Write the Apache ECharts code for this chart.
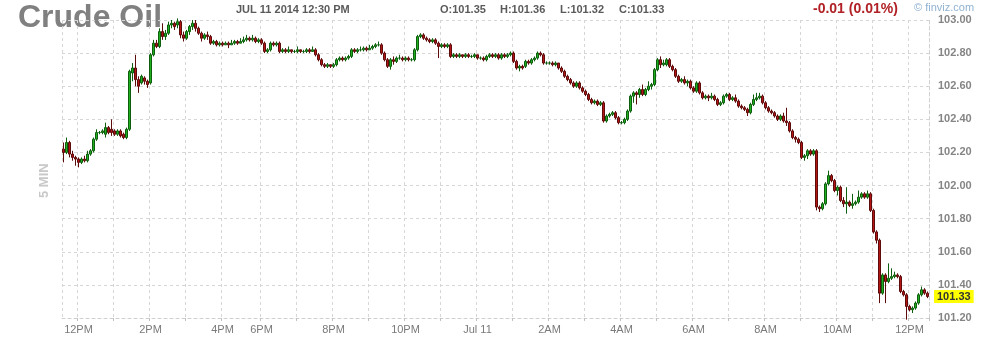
<!DOCTYPE html>
<html><head><meta charset="utf-8">
<script src="https://cdn.jsdelivr.net/npm/echarts/dist/echarts.min.js"></script>
<style>html,body{margin:0;padding:0;background:#fff}#c{width:982px;height:343px}</style>
</head><body><div id="c"></div>
<script>
const chartTitle = 'Crude Oil';
const stamp = 'JUL 11 2014 12:30 PM';
const quoteLabels = ['O:101.35', 'H:101.36', 'L:101.32', 'C:101.33'];
const changeText = '-0.01 (0.01%)';
const sideText = '5 MIN';
const lastPrice = 101.33;
const yMin = 101.2, yMax = 103.0, yStep = 0.2;
// trading sessions of 5-minute bars (category labels)
const sessions = [['Jul 10', '11:35', '17:00'], ['Jul 10', '18:00', '23:55'], ['Jul 11', '00:00', '12:30']];
// candles: [open, close, low, high]
const candles = [
[102.22,102.20,102.14,102.26],[102.20,102.26,102.19,102.29],[102.26,102.19,102.17,102.27],[102.19,102.17,102.15,102.21],[102.17,102.16,102.12,102.18],[102.16,102.14,102.11,102.17],[102.14,102.16,102.13,102.17],[102.16,102.15,102.14,102.18],[102.15,102.19,102.14,102.21],[102.19,102.21,102.18,102.22],
[102.21,102.28,102.20,102.29],[102.28,102.32,102.27,102.34],[102.32,102.32,102.31,102.33],[102.32,102.33,102.31,102.34],[102.31,102.35,102.29,102.38],[102.35,102.32,102.31,102.36],[102.34,102.32,102.30,102.40],[102.33,102.31,102.30,102.34],[102.31,102.33,102.30,102.34],[102.33,102.30,102.29,102.34],
[102.31,102.29,102.28,102.32],[102.29,102.34,102.28,102.35],[102.34,102.69,102.33,102.70],[102.68,102.71,102.63,102.74],[102.71,102.64,102.60,102.79],[102.64,102.60,102.56,102.66],[102.62,102.66,102.61,102.67],[102.65,102.63,102.61,102.66],[102.63,102.61,102.59,102.64],[102.62,102.79,102.61,102.80],
[102.79,102.86,102.78,102.88],[102.86,102.84,102.83,102.88],[102.84,102.93,102.83,102.95],[102.93,102.90,102.88,102.98],[102.90,102.92,102.88,102.94],[102.92,102.97,102.91,102.99],[102.97,102.98,102.95,103.00],[102.98,102.96,102.94,102.99],[102.97,102.99,102.95,103.01],[102.99,102.91,102.89,103.00],
[102.91,102.89,102.87,102.93],[102.89,102.93,102.88,102.94],[102.93,102.96,102.91,102.97],[102.96,102.98,102.94,103.00],[102.98,102.95,102.93,103.00],[102.95,102.92,102.91,102.96],[102.92,102.89,102.87,102.93],[102.89,102.91,102.88,102.92],[102.91,102.90,102.88,102.93],[102.90,102.86,102.85,102.91],
[102.86,102.87,102.85,102.88],[102.87,102.85,102.84,102.88],[102.85,102.86,102.84,102.87],[102.86,102.85,102.84,102.87],[102.85,102.86,102.85,102.87],[102.86,102.85,102.83,102.87],[102.85,102.86,102.85,102.88],[102.86,102.87,102.85,102.88],[102.87,102.86,102.85,102.88],[102.86,102.87,102.86,102.89],
[102.87,102.88,102.86,102.90],[102.88,102.89,102.87,102.91],[102.89,102.88,102.87,102.90],[102.88,102.89,102.87,102.91],[102.89,102.87,102.86,102.90],[102.87,102.88,102.86,102.89],[102.88,102.86,102.85,102.89],[102.86,102.81,102.80,102.87],[102.81,102.82,102.80,102.83],[102.82,102.86,102.81,102.87],
[102.86,102.85,102.84,102.87],[102.85,102.86,102.84,102.87],[102.86,102.81,102.80,102.87],[102.81,102.82,102.80,102.83],[102.82,102.81,102.80,102.83],[102.81,102.82,102.80,102.84],[102.82,102.81,102.80,102.82],[102.81,102.81,102.80,102.82],[102.81,102.82,102.80,102.84],[102.82,102.81,102.80,102.82],
[102.81,102.81,102.80,102.82],[102.81,102.82,102.80,102.83],[102.82,102.81,102.80,102.83],[102.81,102.82,102.81,102.84],[102.82,102.79,102.78,102.83],[102.79,102.76,102.75,102.80],[102.76,102.73,102.72,102.77],[102.73,102.72,102.71,102.74],[102.72,102.73,102.71,102.74],[102.73,102.72,102.71,102.73],
[102.72,102.73,102.71,102.74],[102.73,102.76,102.72,102.77],[102.76,102.77,102.75,102.78],[102.77,102.76,102.75,102.78],[102.76,102.77,102.75,102.78],[102.77,102.78,102.76,102.79],[102.78,102.82,102.77,102.83],[102.82,102.81,102.80,102.83],[102.81,102.82,102.80,102.83],[102.82,102.82,102.81,102.84],
[102.82,102.83,102.81,102.84],[102.83,102.82,102.81,102.84],[102.82,102.83,102.82,102.85],[102.83,102.84,102.82,102.85],[102.84,102.85,102.83,102.86],[102.85,102.85,102.84,102.87],[102.85,102.80,102.79,102.86],[102.80,102.76,102.75,102.81],[102.76,102.72,102.71,102.77],[102.72,102.76,102.70,102.77],
[102.76,102.75,102.73,102.78],[102.75,102.77,102.74,102.78],[102.77,102.77,102.76,102.79],[102.77,102.76,102.75,102.78],[102.76,102.77,102.75,102.78],[102.77,102.76,102.75,102.78],[102.76,102.76,102.75,102.77],[102.76,102.82,102.75,102.83],[102.82,102.90,102.81,102.91],[102.90,102.91,102.89,102.92],
[102.91,102.89,102.88,102.92],[102.89,102.88,102.87,102.90],[102.88,102.87,102.86,102.89],[102.87,102.88,102.86,102.89],[102.88,102.86,102.85,102.89],[102.86,102.84,102.77,102.87],[102.84,102.85,102.83,102.86],[102.85,102.84,102.83,102.86],[102.84,102.85,102.83,102.86],[102.85,102.78,102.77,102.86],
[102.78,102.79,102.77,102.80],[102.79,102.78,102.77,102.80],[102.78,102.79,102.77,102.80],[102.79,102.78,102.77,102.79],[102.78,102.79,102.77,102.80],[102.79,102.78,102.77,102.80],[102.78,102.78,102.77,102.79],[102.78,102.79,102.77,102.80],[102.79,102.77,102.76,102.79],[102.77,102.77,102.76,102.78],
[102.77,102.76,102.75,102.78],[102.76,102.78,102.75,102.79],[102.78,102.79,102.77,102.80],[102.79,102.78,102.77,102.80],[102.78,102.79,102.77,102.80],[102.79,102.77,102.76,102.80],[102.77,102.79,102.76,102.80],[102.79,102.78,102.77,102.80],[102.78,102.79,102.77,102.80],[102.79,102.80,102.78,102.81],
[102.80,102.75,102.74,102.81],[102.75,102.71,102.70,102.76],[102.71,102.72,102.69,102.73],[102.72,102.71,102.70,102.73],[102.72,102.75,102.71,102.76],[102.75,102.74,102.73,102.76],[102.74,102.76,102.73,102.77],[102.76,102.77,102.75,102.78],[102.77,102.80,102.76,102.81],[102.80,102.79,102.78,102.81],
[102.79,102.74,102.73,102.80],[102.74,102.74,102.73,102.75],[102.74,102.74,102.73,102.75],[102.74,102.73,102.72,102.75],[102.73,102.74,102.72,102.75],[102.74,102.71,102.70,102.74],[102.71,102.69,102.68,102.72],[102.69,102.66,102.65,102.70],[102.66,102.64,102.63,102.67],[102.64,102.62,102.61,102.65],
[102.62,102.60,102.59,102.63],[102.60,102.62,102.59,102.63],[102.62,102.59,102.58,102.63],[102.59,102.57,102.56,102.60],[102.57,102.55,102.54,102.58],[102.55,102.52,102.51,102.56],[102.52,102.50,102.49,102.53],[102.50,102.51,102.49,102.52],[102.51,102.49,102.48,102.52],[102.49,102.50,102.48,102.51],
[102.50,102.39,102.38,102.51],[102.39,102.42,102.38,102.43],[102.42,102.43,102.41,102.44],[102.43,102.44,102.42,102.45],[102.44,102.41,102.40,102.45],[102.41,102.38,102.37,102.42],[102.38,102.38,102.37,102.39],[102.38,102.40,102.37,102.41],[102.40,102.45,102.39,102.46],[102.45,102.54,102.44,102.55],
[102.54,102.56,102.50,102.57],[102.56,102.55,102.49,102.57],[102.55,102.58,102.53,102.59],[102.58,102.55,102.54,102.61],[102.55,102.58,102.54,102.59],[102.58,102.60,102.57,102.63],[102.60,102.61,102.58,102.62],[102.61,102.70,102.60,102.71],[102.70,102.76,102.69,102.77],[102.76,102.73,102.71,102.78],
[102.73,102.74,102.72,102.76],[102.73,102.76,102.72,102.77],[102.76,102.72,102.71,102.77],[102.72,102.70,102.69,102.73],[102.70,102.66,102.65,102.71],[102.66,102.63,102.62,102.67],[102.63,102.64,102.62,102.65],[102.64,102.62,102.61,102.66],[102.62,102.63,102.60,102.64],[102.63,102.59,102.58,102.64],
[102.59,102.57,102.56,102.60],[102.57,102.62,102.56,102.63],[102.62,102.56,102.55,102.63],[102.56,102.53,102.52,102.57],[102.53,102.54,102.52,102.55],[102.54,102.53,102.51,102.55],[102.53,102.54,102.52,102.56],[102.54,102.52,102.51,102.55],[102.52,102.49,102.48,102.53],[102.49,102.50,102.48,102.51],
[102.50,102.54,102.49,102.55],[102.54,102.55,102.53,102.56],[102.55,102.52,102.51,102.56],[102.52,102.53,102.51,102.54],[102.53,102.51,102.50,102.55],[102.51,102.48,102.47,102.52],[102.48,102.47,102.46,102.49],[102.47,102.46,102.45,102.48],[102.46,102.44,102.42,102.47],[102.44,102.49,102.43,102.50],
[102.49,102.52,102.48,102.55],[102.52,102.53,102.51,102.56],[102.53,102.54,102.52,102.56],[102.54,102.50,102.49,102.55],[102.50,102.47,102.46,102.51],[102.47,102.45,102.44,102.48],[102.45,102.44,102.43,102.46],[102.44,102.42,102.41,102.45],[102.42,102.40,102.39,102.43],[102.40,102.42,102.39,102.43],
[102.42,102.39,102.38,102.44],[102.39,102.38,102.36,102.47],[102.38,102.33,102.32,102.39],[102.33,102.29,102.28,102.34],[102.29,102.28,102.26,102.30],[102.28,102.26,102.25,102.29],[102.26,102.17,102.16,102.27],[102.17,102.18,102.15,102.19],[102.18,102.21,102.16,102.22],[102.21,102.19,102.18,102.22],
[102.19,102.21,102.18,102.22],[102.21,101.87,101.85,102.22],[101.87,101.86,101.84,101.88],[101.86,101.89,101.85,101.90],[101.89,102.01,101.88,102.02],[102.01,102.06,102.00,102.09],[102.06,102.03,102.02,102.07],[102.03,101.97,101.96,102.04],[101.97,101.99,101.94,102.00],[101.99,101.91,101.90,102.00],
[101.91,101.89,101.87,101.93],[101.89,101.90,101.83,101.99],[101.90,101.88,101.87,101.91],[101.88,101.89,101.86,101.95],[101.89,101.90,101.88,101.91],[101.90,101.93,101.89,101.97],[101.93,101.95,101.92,101.96],[101.95,101.93,101.92,101.96],[101.93,101.95,101.92,101.97],[101.95,101.85,101.84,101.96],
[101.85,101.72,101.71,101.86],[101.72,101.67,101.65,101.73],[101.67,101.35,101.29,101.68],[101.35,101.46,101.34,101.47],[101.46,101.42,101.29,101.47],[101.42,101.44,101.41,101.53],[101.44,101.45,101.43,101.50],[101.45,101.46,101.44,101.48],[101.46,101.45,101.44,101.47],[101.45,101.36,101.35,101.46],
[101.36,101.34,101.33,101.37],[101.34,101.27,101.19,101.35],[101.27,101.25,101.24,101.28],[101.25,101.26,101.23,101.27],[101.26,101.29,101.25,101.30],[101.29,101.34,101.28,101.35],[101.34,101.37,101.33,101.39],[101.37,101.35,101.34,101.38],[101.35,101.33,101.32,101.36]
];

const times = [];
sessions.forEach(([d, a, b]) => {
  const toM = s => (+s.slice(0, 2)) * 60 + (+s.slice(3));
  for (let m = toM(a); m <= toM(b); m += 5) {
    times.push(d + ' ' + String(Math.floor(m / 60)).padStart(2, '0') + ':' + String(m % 60).padStart(2, '0'));
  }
});
const hm = v => { const t = v.split(' ')[2].split(':'); return [+t[0], +t[1]]; };
// hourly grid, skipping 5PM which sits right next to the 6PM session start
const isHour = (i, v) => { const [h, m] = hm(v); return m === 0 && h !== 17; };
const isLabel = (i, v) => { const [h, m] = hm(v); return m === 0 && h % 2 === 0; };
const fmtTime = v => {
  const [h] = hm(v);
  if (h === 0) return v.split(' ').slice(0, 2).join(' ');
  if (h === 12) return '12PM';
  return h > 12 ? (h - 12) + 'PM' : h + 'AM';
};

const FONT = '"Liberation Sans", Arial, sans-serif';
const chart = echarts.init(document.getElementById('c'), null, { renderer: 'canvas' });
chart.setOption({
  animation: false,
  backgroundColor: '#ffffff',
  grid: { left: 62, right: 53, top: 20, bottom: 25, outerBoundsMode: 'none', containLabel: false },
  xAxis: {
    type: 'category', data: times, boundaryGap: true,
    axisLine: { show: true, lineStyle: { color: '#cfcfcf', type: [3, 3] } },
    axisTick: { show: true, interval: isHour, length: 3, lineStyle: { color: '#c0c0c0' } },
    axisLabel: { interval: isLabel, formatter: fmtTime, color: '#7a7a7a', fontSize: 11, fontFamily: FONT, margin: 6 },
    splitLine: { show: true, interval: (i, v) => i === 0 || isHour(i, v), lineStyle: { color: '#d6d6d6', type: [3, 3], width: 1 } }
  },
  yAxis: {
    type: 'value', position: 'right', min: yMin, max: yMax, interval: yStep, scale: true,
    axisLine: { show: true, lineStyle: { color: '#d0d0d0', type: [3, 3] } },
    axisTick: { show: false },
    axisLabel: { formatter: v => v.toFixed(2), color: '#858585', fontWeight: 'bold', fontSize: 11, fontFamily: FONT, margin: 9 },
    splitLine: { show: true, lineStyle: { color: '#d6d6d6', type: [3, 3], width: 1 } }
  },
  graphic: [
    { type: 'text', left: 18, top: 2, z: 0, style: { text: chartTitle, font: 'bold 32px ' + FONT, fill: '#808080' } },
    { type: 'text', left: 236, top: 4, z: 0, style: { text: stamp, font: 'bold 11px ' + FONT, fill: '#5a5a5a' } },
    { type: 'text', left: 440, top: 4, z: 0, style: { text: quoteLabels[0], font: 'bold 11px ' + FONT, fill: '#5a5a5a' } },
    { type: 'text', left: 500, top: 4, z: 0, style: { text: quoteLabels[1], font: 'bold 11px ' + FONT, fill: '#5a5a5a' } },
    { type: 'text', left: 560, top: 4, z: 0, style: { text: quoteLabels[2], font: 'bold 11px ' + FONT, fill: '#5a5a5a' } },
    { type: 'text', left: 619, top: 4, z: 0, style: { text: quoteLabels[3], font: 'bold 11px ' + FONT, fill: '#5a5a5a' } },
    { type: 'text', left: 813, top: 2, z: 0, style: { text: changeText, font: 'bold 14px ' + FONT, fill: '#b02025' } },
    { type: 'text', left: 914, top: 2, z: 0, style: { text: '\u00a9 finviz.com', font: '11px ' + FONT, fill: '#8fb2d2' } },
    { type: 'text', x: 38, y: 198, rotation: Math.PI / 2, z: 0, style: { text: sideText, font: 'bold 13px ' + FONT, fill: '#c8c8c8' } }
  ],
  series: [{
    type: 'candlestick',
    data: candles,
    barWidth: 3,
    clip: false,
    z: 3,
    itemStyle: { color: '#1fae1f', color0: '#b31515', borderColor: '#0d5e0d', borderColor0: '#5e0b0b', borderWidth: 1 },
    markLine: {
      silent: true, symbol: 'none', animation: false,
      lineStyle: { color: 'rgba(0,0,0,0)', width: 0 },
      label: {
        show: true, position: 'end', distance: 5, formatter: () => lastPrice.toFixed(2),
        backgroundColor: '#ffff00', color: '#333333', fontWeight: 'bold', fontSize: 11, fontFamily: FONT, padding: [1, 3]
      },
      data: [{ yAxis: lastPrice }]
    }
  }]
});
</script></body></html>
